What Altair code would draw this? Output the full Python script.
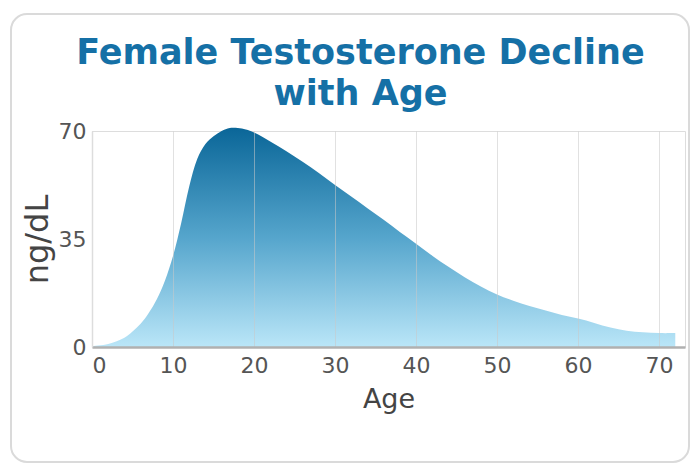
import altair as alt
import pandas as pd

# Values
ages = [0, 2, 4, 5, 6, 7, 8, 9, 10, 11, 12, 13, 14, 15, 16, 17, 18, 19, 20,
        22, 24, 26, 28, 30, 32, 34, 36, 38, 40, 42, 44, 46, 48, 50, 52, 54,
        56, 58, 60, 62, 64, 66, 68, 70, 72]
levels = [0.3, 1, 3, 5, 7.5, 11, 15.5, 21.5, 29.5, 40, 52, 61, 65.8, 68.3,
          70, 71, 71, 70.5, 69.5, 66.6, 63.4, 60, 56.4, 52.5, 48.8, 45, 41.2,
          37.3, 33.5, 29.6, 26, 22.6, 19.6, 17, 15, 13.3, 11.8, 10.4, 9.2,
          7.8, 6.3, 5.3, 4.8, 4.5, 4.5]
x_ticks = [0, 10, 20, 30, 40, 50, 60, 70]
y_ticks = [0, 35, 70]
title_lines = ["Female Testosterone Decline", "with Age"]
x_title = "Age"
y_title = "ng/dL"

df = pd.DataFrame({"Age": ages, "Level": levels})

grad = alt.Gradient(
    gradient="linear",
    stops=[
        alt.GradientStop(color="#bae6f8", offset=0),
        alt.GradientStop(color="#55a5cc", offset=0.5),
        alt.GradientStop(color="#0a6698", offset=1),
    ],
    x1=1, x2=1, y1=1, y2=0,
)

area = alt.Chart(df).mark_area(interpolate="catmull-rom", color=grad).encode(
    x=alt.X(
        "Age:Q",
        scale=alt.Scale(domain=[0, 73.2], nice=False, zero=False),
        axis=alt.Axis(
            values=x_ticks, title=x_title, grid=True, gridColor="#c8c8c8",
            gridOpacity=0.55, gridWidth=1, ticks=False, domainColor="#b0b0b0",
            domainWidth=2.5, labelFont="DejaVu Sans", labelFontSize=22,
            labelColor="#555555", labelPadding=8, titleFont="DejaVu Sans",
            titleFontSize=27, titleFontWeight="normal", titleColor="#444444",
            titlePadding=10, zindex=1,
        ),
    ),
    y=alt.Y(
        "Level:Q",
        scale=alt.Scale(domain=[0, 70], nice=False),
        axis=alt.Axis(
            values=y_ticks, title=y_title, grid=False, ticks=False,
            domainColor="#dddddd", domainWidth=1.5, labelFont="DejaVu Sans",
            labelFontSize=22, labelColor="#555555", labelPadding=6,
            titleFont="DejaVu Sans", titleFontSize=32,
            titleFontWeight="normal", titleColor="#444444", titlePadding=4,
            zindex=1,
        ),
    ),
)

frame = alt.Chart(pd.DataFrame({"k": [0]})).mark_rect(
    cornerRadius=16, fill="white", fillOpacity=0, stroke="#dadada",
    strokeWidth=2,
).encode(
    x=alt.value(-81), x2=alt.value(597), y=alt.value(-117), y2=alt.value(331)
)

chart = alt.layer(frame, area).properties(
    width=593,
    height=216,
    autosize="none",
    padding={"left": 84, "top": 123, "right": 5, "bottom": 118},
    title=alt.TitleParams(
        text=title_lines, font="DejaVu Sans", fontSize=35, fontWeight="bold",
        color="#1570a6", anchor="middle", dx=-28, dy=115, lineHeight=41,
        offset=16,
    ),
).configure_view(stroke=None).configure(background="white")

chart.save("out.html", embed_options={"renderer": "svg", "actions": False})
